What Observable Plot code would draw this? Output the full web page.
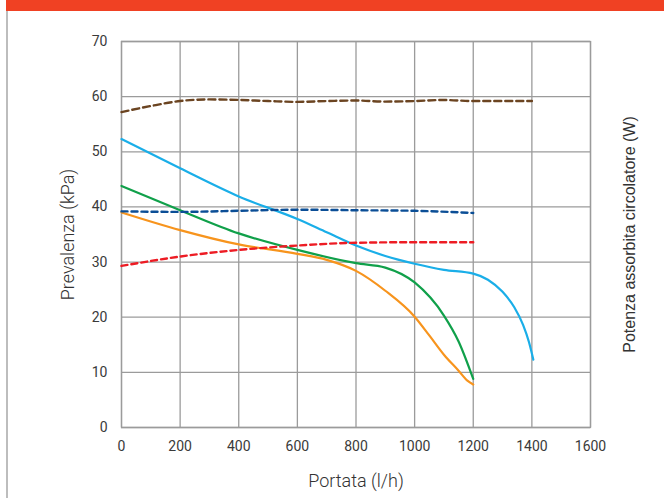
<!DOCTYPE html>
<html>
<head>
<meta charset="utf-8">
<script src="https://cdn.jsdelivr.net/npm/d3@7"></script>
<script src="https://cdn.jsdelivr.net/npm/@observablehq/plot@0.6"></script>
<style>
  html, body { margin: 0; padding: 0; background: #fff; }
  #wrap { position: relative; width: 664px; height: 498px; overflow: hidden; }
  #bar { position: absolute; left: 6px; top: 0; width: 658px; height: 11px; background: #f04123; }
  #edge { position: absolute; left: 6px; top: 11px; width: 1.6px; height: 487px; background: #bdbdbd; }
  #chart { position: absolute; left: 0; top: 0; }
</style>
</head>
<body>
<div id="wrap">
  <div id="chart"></div>
  <div id="bar"></div>
  <div id="edge"></div>
</div>
<script>
// Portata (l/h) sample points and Prevalenza (kPa) values
const azzurroX = [0, 200, 400, 600, 700, 800, 900, 1000, 1100, 1200, 1250, 1300, 1340, 1370, 1390, 1405];
const azzurroY = [52.3, 47.0, 41.9, 37.8, 35.4, 33.0, 31.1, 29.7, 28.6, 27.9, 26.8, 24.6, 21.8, 18.6, 15.5, 12.3];

const verdeX = [0, 200, 400, 600, 800, 900, 1000, 1100, 1150, 1200];
const verdeY = [43.8, 39.4, 35.2, 32.2, 29.8, 29.0, 26.3, 20.3, 15.6, 8.8];

const aranceX = [0, 200, 400, 600, 700, 800, 900, 1000, 1050, 1100, 1150, 1180, 1200];
const aranceY = [39.0, 35.8, 33.2, 31.5, 30.4, 28.4, 24.8, 20.1, 16.7, 13.2, 10.3, 8.5, 7.8];

const rossoX = [0, 200, 400, 600, 800, 1000, 1200];
const rossoY = [29.3, 31.0, 32.2, 33.0, 33.5, 33.6, 33.6];

const bluX = [0, 200, 400, 600, 800, 1000, 1200];
const bluY = [39.2, 39.1, 39.3, 39.5, 39.4, 39.3, 38.9];

const marroneX = [0, 100, 200, 300, 400, 500, 600, 700, 800, 900, 1000, 1100, 1200, 1400];
const marroneY = [57.2, 58.3, 59.2, 59.5, 59.4, 59.2, 59.05, 59.2, 59.3, 59.1, 59.2, 59.4, 59.2, 59.2];

const xTicks = [0, 200, 400, 600, 800, 1000, 1200, 1400, 1600];
const yTicks = [0, 10, 20, 30, 40, 50, 60, 70];

const series = [
  {name: "azzurro", xs: azzurroX, ys: azzurroY, color: "#1aaee8", dash: null},
  {name: "verde", xs: verdeX, ys: verdeY, color: "#10a04a", dash: null},
  {name: "arancione", xs: aranceX, ys: aranceY, color: "#f7941d", dash: null},
  {name: "rosso", xs: rossoX, ys: rossoY, color: "#ed1c24", dash: "6,4"},
  {name: "blu", xs: bluX, ys: bluY, color: "#0b4e96", dash: "6,4"},
  {name: "marrone", xs: marroneX, ys: marroneY, color: "#6b4421", dash: "7,4"}
];

const gridColor = "#9b9b9b";
const fmt = d => String(d);

const marks = [
  Plot.gridX(xTicks, {stroke: gridColor, strokeOpacity: 1, strokeWidth: 1.3}),
  Plot.gridY(yTicks, {stroke: gridColor, strokeOpacity: 1, strokeWidth: 1.3}),
  Plot.frame({stroke: gridColor, strokeWidth: 1.3}),
  Plot.axisX(xTicks, {tickSize: 0, tickPadding: 14, fontSize: 14, fill: "#3a3a3a", tickFormat: fmt, label: null}),
  Plot.axisY(yTicks, {tickSize: 0, tickPadding: 14, fontSize: 14, fill: "#3a3a3a", tickFormat: fmt, label: null}),
  Plot.axisX({ticks: [], tickSize: 0, fontSize: 18, fontWeight: 300, fill: "#333",
    label: "Portata (l/h)", labelAnchor: "center", labelArrow: "none", labelOffset: 59}),
  Plot.axisY({ticks: [], tickSize: 0, fontSize: 18, fontWeight: 300, fill: "#333",
    label: "Prevalenza (kPa)", labelAnchor: "center", labelArrow: "none", labelOffset: 60}),
  Plot.axisY({anchor: "right", ticks: [], tickSize: 0, fontSize: 16, fill: "#333",
    fontFamily: "'Liberation Sans', Arial, sans-serif",
    label: "Potenza assorbita circolatore (W)", labelAnchor: "center", labelArrow: "none", labelOffset: 44})
];

for (const s of series) {
  const data = s.xs.map((x, i) => ({x, y: s.ys[i]}));
  marks.push(Plot.line(data, {x: "x", y: "y", stroke: s.color, strokeWidth: s.dash ? 2.4 : 2.2,
    strokeDasharray: s.dash, curve: "monotone-x"}));
}

const chart = Plot.plot({
  width: 664,
  height: 498,
  marginTop: 41,
  marginBottom: 71,
  marginLeft: 121,
  marginRight: 74,
  style: {fontFamily: "Roboto, sans-serif", fontSize: "14px", color: "#333", background: "#fff"},
  x: {domain: [0, 1600]},
  y: {domain: [0, 70]},
  marks
});

document.getElementById("chart").appendChild(chart);
</script>
</body>
</html>
